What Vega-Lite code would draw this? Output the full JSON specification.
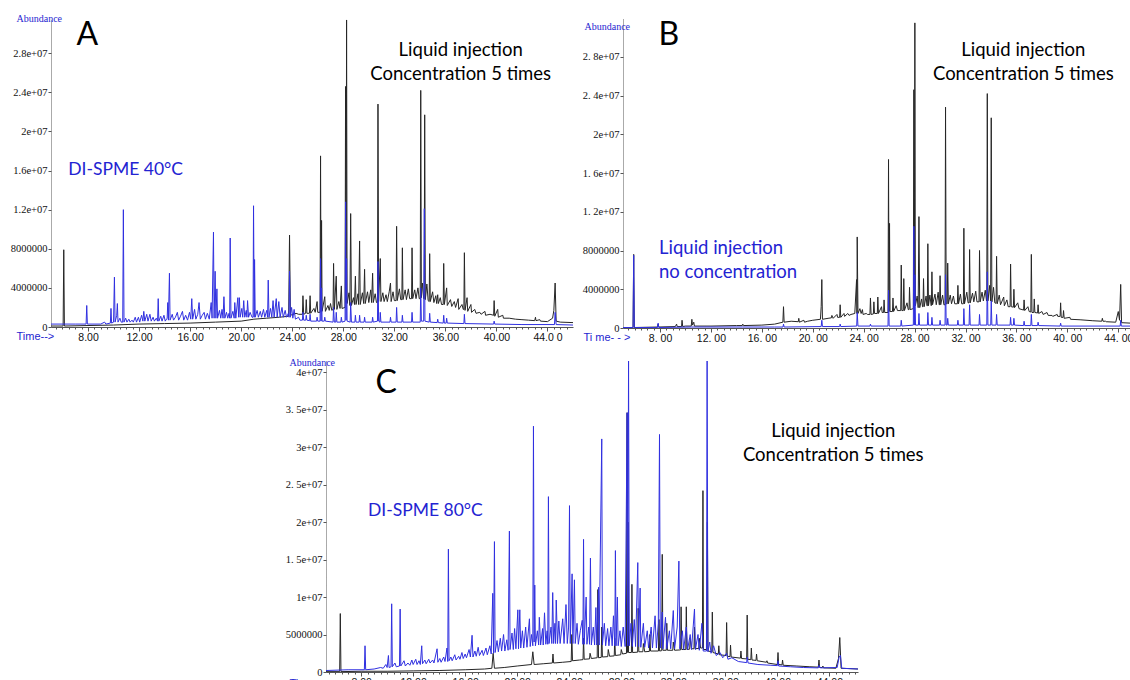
{
"$schema": "https://vega.github.io/schema/vega-lite/v6.json",
"background": "white",
"padding": {"left": 10, "top": 13, "right": 0, "bottom": 0},
"datasets": {
"Ak": [{"t":5.1,"y":0.1},{"t":6.05,"y":0.1},{"t":6.1,"y":7.9},{"t":6.15,"y":0.1},{"t":8,"y":0.15},{"t":10,"y":0.2},{"t":12,"y":0.3},{"t":14,"y":0.35},{"t":16,"y":0.4},{"t":18,"y":0.5},{"t":20,"y":0.6},{"t":21,"y":0.8},{"t":22,"y":0.9},{"t":23,"y":1.0},{"t":23.72,"y":1.1},{"t":23.79,"y":9.4},{"t":23.86,"y":1.2},{"t":24.3,"y":1.4},{"t":24.5,"y":1.3},{"t":24.8,"y":1.3},{"t":24.84,"y":3.2},{"t":24.9,"y":1.3},{"t":25.05,"y":1.4},{"t":25.1,"y":2.8},{"t":25.15,"y":1.4},{"t":25.35,"y":1.4},{"t":25.4,"y":3.2},{"t":25.45,"y":1.4},{"t":25.7,"y":1.9},{"t":25.8,"y":1.5},{"t":25.95,"y":2.6},{"t":26.0,"y":1.5},{"t":26.18,"y":1.5},{"t":26.22,"y":17.5},{"t":26.26,"y":1.6},{"t":26.3,"y":10.9},{"t":26.34,"y":1.6},{"t":26.55,"y":3.1},{"t":26.6,"y":1.6},{"t":26.8,"y":2.2},{"t":26.9,"y":1.7},{"t":27.0,"y":2.4},{"t":27.1,"y":1.7},{"t":27.2,"y":1.8},{"t":27.24,"y":6.5},{"t":27.3,"y":1.8},{"t":27.45,"y":5.2},{"t":27.5,"y":1.8},{"t":27.65,"y":2.6},{"t":27.75,"y":1.9},{"t":27.85,"y":4.2},{"t":27.9,"y":1.9},{"t":28.14,"y":2.0},{"t":28.18,"y":24.6},{"t":28.22,"y":2.5},{"t":28.26,"y":31.4},{"t":28.3,"y":2.4},{"t":28.45,"y":3.5},{"t":28.52,"y":2.2},{"t":28.58,"y":11.6},{"t":28.64,"y":2.2},{"t":28.8,"y":3.0},{"t":28.88,"y":2.3},{"t":28.95,"y":5.2},{"t":29.0,"y":2.3},{"t":29.15,"y":3.4},{"t":29.2,"y":2.3},{"t":29.28,"y":8.8},{"t":29.33,"y":2.3},{"t":29.5,"y":3.5},{"t":29.6,"y":2.4},{"t":29.67,"y":5.9},{"t":29.72,"y":2.4},{"t":29.9,"y":3.6},{"t":30.0,"y":2.5},{"t":30.15,"y":3.8},{"t":30.22,"y":2.5},{"t":30.3,"y":5.5},{"t":30.35,"y":2.5},{"t":30.5,"y":3.4},{"t":30.6,"y":2.5},{"t":30.68,"y":2.5},{"t":30.72,"y":22.8},{"t":30.77,"y":2.6},{"t":30.9,"y":7.0},{"t":30.95,"y":2.6},{"t":31.1,"y":3.5},{"t":31.2,"y":2.6},{"t":31.35,"y":3.3},{"t":31.45,"y":2.6},{"t":31.6,"y":3.6},{"t":31.7,"y":4.5},{"t":31.75,"y":2.6},{"t":31.9,"y":3.6},{"t":32.0,"y":2.7},{"t":32.14,"y":2.7},{"t":32.18,"y":10.3},{"t":32.23,"y":2.7},{"t":32.4,"y":3.9},{"t":32.5,"y":2.8},{"t":32.59,"y":2.8},{"t":32.63,"y":8.1},{"t":32.68,"y":2.8},{"t":32.85,"y":3.8},{"t":32.95,"y":2.8},{"t":33.1,"y":3.9},{"t":33.2,"y":2.9},{"t":33.35,"y":2.9},{"t":33.39,"y":8.1},{"t":33.44,"y":2.9},{"t":33.6,"y":3.8},{"t":33.7,"y":2.9},{"t":33.85,"y":4.0},{"t":33.95,"y":2.9},{"t":34.03,"y":2.9},{"t":34.07,"y":24.2},{"t":34.12,"y":3.0},{"t":34.2,"y":4.5},{"t":34.3,"y":2.9},{"t":34.34,"y":2.9},{"t":34.38,"y":21.7},{"t":34.43,"y":2.8},{"t":34.55,"y":4.4},{"t":34.65,"y":2.7},{"t":34.73,"y":2.6},{"t":34.77,"y":7.5},{"t":34.82,"y":2.6},{"t":35.0,"y":3.6},{"t":35.1,"y":2.5},{"t":35.25,"y":3.2},{"t":35.32,"y":2.4},{"t":35.4,"y":3.3},{"t":35.45,"y":2.4},{"t":35.6,"y":3.0},{"t":35.7,"y":2.3},{"t":35.83,"y":2.3},{"t":35.87,"y":6.5},{"t":35.92,"y":2.3},{"t":36.1,"y":4.0},{"t":36.15,"y":2.2},{"t":36.4,"y":2.8},{"t":36.5,"y":2.1},{"t":36.7,"y":2.6},{"t":36.8,"y":2.0},{"t":37.0,"y":2.9},{"t":37.05,"y":1.8},{"t":37.3,"y":2.3},{"t":37.4,"y":1.8},{"t":37.45,"y":1.8},{"t":37.49,"y":7.6},{"t":37.54,"y":1.7},{"t":37.7,"y":3.0},{"t":37.75,"y":1.6},{"t":38.0,"y":2.3},{"t":38.05,"y":1.5},{"t":38.3,"y":1.8},{"t":38.4,"y":1.4},{"t":38.7,"y":1.5},{"t":38.8,"y":1.3},{"t":39.1,"y":1.6},{"t":39.15,"y":1.2},{"t":39.5,"y":1.3},{"t":39.78,"y":1.2},{"t":39.82,"y":2.7},{"t":39.87,"y":1.1},{"t":40.1,"y":1.8},{"t":40.15,"y":1.0},{"t":40.5,"y":1.2},{"t":40.55,"y":0.9},{"t":41,"y":0.9},{"t":41.5,"y":0.8},{"t":42,"y":0.75},{"t":42.5,"y":0.7},{"t":43.0,"y":0.65},{"t":43.06,"y":1.0},{"t":43.1,"y":0.65},{"t":43.4,"y":0.75},{"t":43.45,"y":0.6},{"t":44.0,"y":0.55},{"t":44.4,"y":0.9},{"t":44.5,"y":1.7},{"t":44.6,"y":4.5},{"t":44.68,"y":0.6},{"t":45,"y":0.5},{"t":46,"y":0.45}],
"Ab": [{"t":5.1,"y":0.3},{"t":7,"y":0.3},{"t":7.85,"y":0.3},{"t":7.9,"y":2.2},{"t":7.95,"y":0.3},{"t":9.0,"y":0.3},{"t":9.3,"y":0.5},{"t":9.4,"y":0.3},{"t":9.75,"y":0.4},{"t":9.8,"y":1.9},{"t":9.85,"y":0.4},{"t":10.0,"y":0.5},{"t":10.07,"y":5.1},{"t":10.12,"y":0.5},{"t":10.25,"y":1.2},{"t":10.3,"y":2.4},{"t":10.35,"y":0.5},{"t":10.5,"y":0.9},{"t":10.6,"y":0.5},{"t":10.72,"y":0.5},{"t":10.77,"y":12.0},{"t":10.82,"y":0.5},{"t":10.95,"y":0.9},{"t":11.05,"y":0.5},{"t":11.2,"y":0.8},{"t":11.3,"y":0.5},{"t":11.45,"y":0.7},{"t":11.55,"y":0.5},{"t":11.7,"y":1.0},{"t":11.8,"y":0.5},{"t":11.95,"y":1.0},{"t":12.05,"y":0.5},{"t":12.2,"y":1.2},{"t":12.3,"y":0.6},{"t":12.37,"y":1.6},{"t":12.45,"y":0.6},{"t":12.6,"y":1.3},{"t":12.7,"y":0.6},{"t":12.85,"y":1.3},{"t":12.95,"y":0.6},{"t":13.1,"y":1.0},{"t":13.2,"y":0.6},{"t":13.35,"y":0.9},{"t":13.45,"y":0.6},{"t":13.5,"y":2.9},{"t":13.55,"y":0.6},{"t":13.7,"y":1.1},{"t":13.8,"y":0.6},{"t":13.95,"y":1.2},{"t":14.05,"y":0.6},{"t":14.2,"y":0.9},{"t":14.25,"y":2.5},{"t":14.3,"y":0.7},{"t":14.38,"y":5.5},{"t":14.43,"y":0.7},{"t":14.6,"y":1.3},{"t":14.7,"y":0.7},{"t":14.85,"y":1.0},{"t":15.0,"y":1.5},{"t":15.1,"y":0.7},{"t":15.25,"y":1.1},{"t":15.4,"y":1.6},{"t":15.5,"y":0.7},{"t":15.65,"y":1.2},{"t":15.8,"y":0.7},{"t":15.95,"y":1.5},{"t":16.05,"y":0.8},{"t":16.13,"y":2.9},{"t":16.2,"y":0.8},{"t":16.35,"y":1.8},{"t":16.45,"y":0.8},{"t":16.6,"y":1.3},{"t":16.7,"y":2.5},{"t":16.8,"y":0.8},{"t":16.95,"y":1.2},{"t":17.1,"y":1.5},{"t":17.2,"y":0.8},{"t":17.35,"y":1.4},{"t":17.5,"y":0.8},{"t":17.65,"y":2.5},{"t":17.72,"y":0.9},{"t":17.83,"y":9.7},{"t":17.88,"y":0.9},{"t":17.96,"y":5.7},{"t":18.02,"y":0.9},{"t":18.1,"y":3.9},{"t":18.15,"y":0.9},{"t":18.3,"y":1.7},{"t":18.4,"y":0.9},{"t":18.5,"y":1.8},{"t":18.58,"y":0.9},{"t":18.65,"y":3.1},{"t":18.72,"y":0.9},{"t":18.85,"y":1.5},{"t":18.95,"y":0.9},{"t":19.05,"y":1.4},{"t":19.1,"y":0.9},{"t":19.14,"y":9.1},{"t":19.2,"y":0.9},{"t":19.35,"y":1.6},{"t":19.45,"y":0.9},{"t":19.5,"y":2.5},{"t":19.58,"y":0.9},{"t":19.74,"y":3.0},{"t":19.8,"y":1.0},{"t":19.86,"y":3.0},{"t":19.92,"y":1.0},{"t":20.05,"y":1.9},{"t":20.12,"y":1.0},{"t":20.2,"y":2.7},{"t":20.28,"y":1.0},{"t":20.4,"y":1.7},{"t":20.45,"y":1.0},{"t":20.5,"y":2.7},{"t":20.58,"y":1.0},{"t":20.7,"y":1.5},{"t":20.85,"y":1.0},{"t":20.93,"y":1.0},{"t":20.97,"y":12.4},{"t":21.02,"y":1.0},{"t":21.05,"y":6.9},{"t":21.1,"y":1.0},{"t":21.25,"y":1.7},{"t":21.35,"y":1.0},{"t":21.5,"y":1.6},{"t":21.6,"y":1.0},{"t":21.75,"y":1.8},{"t":21.85,"y":1.0},{"t":22.0,"y":1.7},{"t":22.07,"y":1.0},{"t":22.12,"y":4.8},{"t":22.18,"y":1.0},{"t":22.3,"y":1.9},{"t":22.4,"y":1.0},{"t":22.5,"y":2.7},{"t":22.58,"y":1.0},{"t":22.75,"y":2.9},{"t":22.82,"y":1.0},{"t":22.95,"y":2.6},{"t":23.05,"y":1.0},{"t":23.2,"y":2.0},{"t":23.3,"y":1.0},{"t":23.45,"y":1.7},{"t":23.55,"y":1.0},{"t":23.7,"y":1.4},{"t":23.75,"y":1.0},{"t":23.79,"y":5.7},{"t":23.85,"y":1.0},{"t":23.95,"y":2.0},{"t":24.05,"y":0.9},{"t":24.15,"y":1.8},{"t":24.25,"y":0.8},{"t":24.5,"y":1.0},{"t":24.6,"y":0.7},{"t":24.8,"y":0.7},{"t":24.84,"y":1.5},{"t":24.9,"y":0.7},{"t":25.06,"y":0.7},{"t":25.1,"y":1.2},{"t":25.15,"y":0.7},{"t":25.36,"y":0.65},{"t":25.4,"y":1.3},{"t":25.45,"y":0.6},{"t":25.91,"y":0.6},{"t":25.95,"y":1.0},{"t":26.0,"y":0.6},{"t":26.18,"y":0.6},{"t":26.22,"y":7.0},{"t":26.26,"y":0.6},{"t":26.3,"y":4.0},{"t":26.34,"y":0.6},{"t":26.51,"y":0.6},{"t":26.55,"y":1.0},{"t":26.6,"y":0.6},{"t":27.2,"y":0.5},{"t":27.24,"y":2.0},{"t":27.3,"y":0.5},{"t":27.41,"y":0.5},{"t":27.45,"y":1.5},{"t":27.5,"y":0.5},{"t":27.81,"y":0.5},{"t":27.85,"y":1.0},{"t":27.9,"y":0.5},{"t":28.14,"y":0.6},{"t":28.18,"y":12.8},{"t":28.22,"y":0.7},{"t":28.26,"y":7.0},{"t":28.3,"y":0.6},{"t":28.54,"y":0.5},{"t":28.58,"y":2.5},{"t":28.64,"y":0.5},{"t":28.91,"y":0.5},{"t":28.95,"y":1.2},{"t":29.0,"y":0.5},{"t":29.24,"y":0.5},{"t":29.28,"y":1.2},{"t":29.33,"y":0.5},{"t":29.63,"y":0.5},{"t":29.67,"y":1.0},{"t":29.72,"y":0.5},{"t":30.26,"y":0.5},{"t":30.3,"y":1.0},{"t":30.35,"y":0.5},{"t":30.68,"y":0.6},{"t":30.72,"y":6.7},{"t":30.77,"y":0.6},{"t":30.86,"y":0.5},{"t":30.9,"y":1.5},{"t":30.95,"y":0.5},{"t":31.66,"y":0.5},{"t":31.7,"y":1.0},{"t":31.75,"y":0.5},{"t":32.14,"y":0.5},{"t":32.18,"y":2.0},{"t":32.23,"y":0.5},{"t":32.59,"y":0.5},{"t":32.63,"y":1.2},{"t":32.68,"y":0.5},{"t":33.35,"y":0.5},{"t":33.39,"y":1.5},{"t":33.44,"y":0.5},{"t":34.03,"y":0.5},{"t":34.07,"y":4.0},{"t":34.12,"y":0.6},{"t":34.3,"y":0.6},{"t":34.35,"y":12.1},{"t":34.4,"y":0.6},{"t":34.73,"y":0.5},{"t":34.77,"y":1.4},{"t":34.82,"y":0.5},{"t":35.36,"y":0.45},{"t":35.4,"y":0.8},{"t":35.45,"y":0.45},{"t":35.83,"y":0.4},{"t":35.87,"y":1.2},{"t":35.92,"y":0.4},{"t":36.06,"y":0.4},{"t":36.1,"y":0.9},{"t":36.15,"y":0.4},{"t":37.45,"y":0.35},{"t":37.49,"y":1.3},{"t":37.54,"y":0.35},{"t":39.78,"y":0.3},{"t":39.82,"y":0.6},{"t":39.87,"y":0.3},{"t":42,"y":0.25},{"t":44.55,"y":0.25},{"t":44.6,"y":1.5},{"t":44.68,"y":0.25},{"t":46,"y":0.2}],
"Bk": [{"t":5.09,"y":0.05},{"t":5.88,"y":0.05},{"t":5.93,"y":7.6},{"t":5.98,"y":0.05},{"t":7.8,"y":0.1},{"t":7.85,"y":0.4},{"t":7.9,"y":0.1},{"t":9.2,"y":0.15},{"t":9.3,"y":0.4},{"t":9.35,"y":0.15},{"t":9.69,"y":0.15},{"t":9.73,"y":0.8},{"t":9.78,"y":0.15},{"t":10.0,"y":0.2},{"t":10.45,"y":0.2},{"t":10.5,"y":0.9},{"t":10.55,"y":0.3},{"t":10.65,"y":0.6},{"t":10.7,"y":0.2},{"t":12,"y":0.2},{"t":14,"y":0.25},{"t":14.46,"y":0.25},{"t":14.5,"y":0.4},{"t":14.55,"y":0.25},{"t":16,"y":0.3},{"t":17,"y":0.4},{"t":17.65,"y":0.6},{"t":17.7,"y":2.2},{"t":17.75,"y":0.6},{"t":18.3,"y":0.7},{"t":18.86,"y":0.65},{"t":18.9,"y":1.0},{"t":18.95,"y":0.6},{"t":19.3,"y":0.8},{"t":19.35,"y":0.6},{"t":19.6,"y":0.7},{"t":20.0,"y":0.8},{"t":20.6,"y":0.9},{"t":20.66,"y":2.2},{"t":20.71,"y":5.0},{"t":20.76,"y":0.9},{"t":21.2,"y":1.0},{"t":21.46,"y":1.05},{"t":21.5,"y":1.3},{"t":21.6,"y":1.0},{"t":21.9,"y":1.4},{"t":21.95,"y":1.1},{"t":22.11,"y":1.1},{"t":22.15,"y":2.4},{"t":22.2,"y":1.1},{"t":22.45,"y":1.5},{"t":22.5,"y":1.2},{"t":22.75,"y":1.5},{"t":22.85,"y":1.3},{"t":23.0,"y":1.4},{"t":23.3,"y":1.5},{"t":23.44,"y":5.0},{"t":23.47,"y":1.5},{"t":23.49,"y":9.4},{"t":23.55,"y":1.5},{"t":23.7,"y":2.0},{"t":23.8,"y":1.5},{"t":23.9,"y":1.9},{"t":23.95,"y":1.4},{"t":24.2,"y":1.5},{"t":24.3,"y":1.4},{"t":24.49,"y":1.4},{"t":24.53,"y":3.1},{"t":24.58,"y":1.4},{"t":24.76,"y":1.45},{"t":24.8,"y":2.7},{"t":24.85,"y":1.5},{"t":25.07,"y":1.5},{"t":25.11,"y":3.2},{"t":25.16,"y":1.5},{"t":25.4,"y":2.2},{"t":25.45,"y":1.6},{"t":25.56,"y":1.6},{"t":25.6,"y":2.9},{"t":25.65,"y":1.6},{"t":25.91,"y":1.6},{"t":25.95,"y":17.4},{"t":25.99,"y":1.7},{"t":26.03,"y":10.8},{"t":26.07,"y":1.7},{"t":26.26,"y":1.7},{"t":26.3,"y":3.1},{"t":26.35,"y":1.7},{"t":26.55,"y":2.3},{"t":26.65,"y":1.8},{"t":26.91,"y":1.8},{"t":26.95,"y":6.5},{"t":27.0,"y":1.8},{"t":27.11,"y":1.8},{"t":27.15,"y":5.1},{"t":27.2,"y":1.8},{"t":27.4,"y":2.6},{"t":27.5,"y":1.9},{"t":27.56,"y":1.9},{"t":27.6,"y":4.2},{"t":27.65,"y":1.9},{"t":27.9,"y":2.0},{"t":27.94,"y":24.6},{"t":27.98,"y":2.3},{"t":28.02,"y":31.5},{"t":28.06,"y":2.3},{"t":28.2,"y":3.3},{"t":28.28,"y":2.1},{"t":28.34,"y":11.5},{"t":28.4,"y":2.1},{"t":28.55,"y":3.0},{"t":28.62,"y":2.2},{"t":28.66,"y":2.2},{"t":28.7,"y":5.1},{"t":28.75,"y":2.2},{"t":28.9,"y":3.3},{"t":28.97,"y":2.3},{"t":29.0,"y":2.3},{"t":29.04,"y":8.7},{"t":29.09,"y":2.3},{"t":29.2,"y":3.4},{"t":29.3,"y":2.3},{"t":29.32,"y":2.35},{"t":29.36,"y":5.8},{"t":29.41,"y":2.4},{"t":29.6,"y":3.5},{"t":29.7,"y":2.4},{"t":29.85,"y":3.7},{"t":29.93,"y":2.4},{"t":29.96,"y":2.4},{"t":30.0,"y":5.4},{"t":30.05,"y":2.4},{"t":30.2,"y":3.4},{"t":30.3,"y":2.4},{"t":30.39,"y":2.4},{"t":30.43,"y":22.8},{"t":30.48,"y":2.5},{"t":30.56,"y":2.5},{"t":30.6,"y":6.7},{"t":30.65,"y":2.5},{"t":30.8,"y":3.4},{"t":30.9,"y":2.5},{"t":31.05,"y":3.3},{"t":31.15,"y":2.5},{"t":31.36,"y":2.5},{"t":31.4,"y":4.4},{"t":31.45,"y":2.5},{"t":31.6,"y":3.5},{"t":31.7,"y":2.5},{"t":31.83,"y":2.5},{"t":31.87,"y":10.3},{"t":31.92,"y":2.5},{"t":32.1,"y":3.7},{"t":32.2,"y":2.6},{"t":32.28,"y":2.6},{"t":32.32,"y":8.1},{"t":32.37,"y":2.6},{"t":32.55,"y":3.6},{"t":32.65,"y":2.7},{"t":32.8,"y":3.8},{"t":32.9,"y":2.7},{"t":33.06,"y":2.7},{"t":33.1,"y":8.0},{"t":33.15,"y":2.7},{"t":33.3,"y":3.7},{"t":33.4,"y":2.8},{"t":33.55,"y":3.9},{"t":33.65,"y":2.8},{"t":33.67,"y":2.8},{"t":33.71,"y":24.2},{"t":33.76,"y":2.8},{"t":33.9,"y":4.4},{"t":33.97,"y":2.8},{"t":34.02,"y":21.7},{"t":34.07,"y":2.7},{"t":34.2,"y":4.2},{"t":34.3,"y":2.6},{"t":34.4,"y":2.55},{"t":34.44,"y":7.4},{"t":34.49,"y":2.5},{"t":34.65,"y":3.4},{"t":34.75,"y":2.4},{"t":35.0,"y":3.2},{"t":35.05,"y":2.3},{"t":35.25,"y":2.9},{"t":35.35,"y":2.2},{"t":35.5,"y":2.2},{"t":35.54,"y":6.6},{"t":35.59,"y":2.2},{"t":35.76,"y":2.15},{"t":35.8,"y":4.0},{"t":35.85,"y":2.1},{"t":36.1,"y":2.6},{"t":36.2,"y":2.0},{"t":36.56,"y":1.85},{"t":36.6,"y":2.9},{"t":36.65,"y":1.8},{"t":36.9,"y":2.2},{"t":37.0,"y":1.7},{"t":37.13,"y":1.65},{"t":37.17,"y":7.6},{"t":37.22,"y":1.6},{"t":37.36,"y":1.6},{"t":37.4,"y":3.0},{"t":37.45,"y":1.6},{"t":37.66,"y":1.55},{"t":37.7,"y":2.4},{"t":37.75,"y":1.5},{"t":38.0,"y":1.7},{"t":38.1,"y":1.4},{"t":38.4,"y":1.6},{"t":38.5,"y":1.3},{"t":38.8,"y":1.3},{"t":38.85,"y":1.2},{"t":39.2,"y":1.4},{"t":39.25,"y":1.2},{"t":39.43,"y":1.2},{"t":39.47,"y":2.6},{"t":39.52,"y":1.1},{"t":39.66,"y":1.1},{"t":39.7,"y":1.8},{"t":39.75,"y":1.0},{"t":40.2,"y":1.1},{"t":40.25,"y":0.9},{"t":41,"y":0.85},{"t":42,"y":0.75},{"t":42.7,"y":0.7},{"t":42.75,"y":1.0},{"t":42.8,"y":0.7},{"t":43.0,"y":0.7},{"t":43.05,"y":0.65},{"t":43.8,"y":0.6},{"t":44.0,"y":1.7},{"t":44.1,"y":0.8},{"t":44.19,"y":4.5},{"t":44.26,"y":0.55},{"t":45,"y":0.5}],
"Bb": [{"t":5.09,"y":0.05},{"t":5.88,"y":0.05},{"t":5.93,"y":7.5},{"t":5.98,"y":0.05},{"t":7.8,"y":0.05},{"t":7.85,"y":0.5},{"t":7.9,"y":0.05},{"t":10.5,"y":0.1},{"t":14.5,"y":0.1},{"t":17,"y":0.1},{"t":17.66,"y":0.1},{"t":17.7,"y":0.4},{"t":17.75,"y":0.1},{"t":20.66,"y":0.15},{"t":20.71,"y":0.8},{"t":20.76,"y":0.15},{"t":22.11,"y":0.15},{"t":22.15,"y":0.4},{"t":22.2,"y":0.15},{"t":23.45,"y":0.2},{"t":23.49,"y":1.6},{"t":23.55,"y":0.2},{"t":24.49,"y":0.2},{"t":24.53,"y":0.4},{"t":24.58,"y":0.2},{"t":25.91,"y":0.2},{"t":25.95,"y":3.9},{"t":26.0,"y":0.2},{"t":26.91,"y":0.2},{"t":26.95,"y":0.8},{"t":27.0,"y":0.2},{"t":27.9,"y":0.3},{"t":27.94,"y":10.5},{"t":27.98,"y":0.3},{"t":28.02,"y":5.5},{"t":28.07,"y":0.3},{"t":28.3,"y":0.3},{"t":28.34,"y":1.5},{"t":28.39,"y":0.3},{"t":29.0,"y":0.3},{"t":29.04,"y":1.6},{"t":29.09,"y":0.3},{"t":29.32,"y":0.3},{"t":29.36,"y":1.1},{"t":29.41,"y":0.3},{"t":29.96,"y":0.3},{"t":30.0,"y":0.8},{"t":30.05,"y":0.3},{"t":30.39,"y":0.3},{"t":30.43,"y":5.5},{"t":30.48,"y":0.3},{"t":30.56,"y":0.3},{"t":30.6,"y":1.0},{"t":30.65,"y":0.3},{"t":31.36,"y":0.3},{"t":31.4,"y":0.8},{"t":31.45,"y":0.3},{"t":31.83,"y":0.3},{"t":31.87,"y":2.0},{"t":31.92,"y":0.3},{"t":32.28,"y":0.3},{"t":32.32,"y":2.4},{"t":32.37,"y":0.3},{"t":33.06,"y":0.3},{"t":33.1,"y":1.4},{"t":33.15,"y":0.3},{"t":33.67,"y":0.3},{"t":33.71,"y":5.8},{"t":33.76,"y":0.3},{"t":33.98,"y":0.3},{"t":34.02,"y":2.8},{"t":34.07,"y":0.3},{"t":34.4,"y":0.3},{"t":34.44,"y":1.4},{"t":34.49,"y":0.3},{"t":35.5,"y":0.3},{"t":35.54,"y":1.1},{"t":35.59,"y":0.3},{"t":35.76,"y":0.3},{"t":35.8,"y":1.0},{"t":35.85,"y":0.3},{"t":36.56,"y":0.25},{"t":36.6,"y":0.7},{"t":36.65,"y":0.25},{"t":37.13,"y":0.25},{"t":37.17,"y":1.4},{"t":37.22,"y":0.25},{"t":37.66,"y":0.25},{"t":37.7,"y":0.6},{"t":37.75,"y":0.25},{"t":39.43,"y":0.2},{"t":39.47,"y":0.5},{"t":39.52,"y":0.2},{"t":44.15,"y":0.2},{"t":44.19,"y":0.8},{"t":44.24,"y":0.2},{"t":45,"y":0.2}],
"Ck": [{"t":5.3,"y":0.05},{"t":6.35,"y":0.05},{"t":6.4,"y":7.8},{"t":6.45,"y":0.05},{"t":8,"y":0.1},{"t":10,"y":0.1},{"t":12,"y":0.15},{"t":14,"y":0.2},{"t":16,"y":0.3},{"t":17.5,"y":0.4},{"t":18.05,"y":0.5},{"t":18.15,"y":2.5},{"t":18.25,"y":0.5},{"t":19,"y":0.6},{"t":20,"y":0.8},{"t":21.1,"y":1.0},{"t":21.2,"y":2.7},{"t":21.3,"y":1.0},{"t":22,"y":1.1},{"t":22.7,"y":1.2},{"t":22.75,"y":2.4},{"t":22.8,"y":1.2},{"t":23.5,"y":1.3},{"t":24.15,"y":1.4},{"t":24.2,"y":5.0},{"t":24.25,"y":1.5},{"t":24.8,"y":1.6},{"t":25.06,"y":1.65},{"t":25.1,"y":4.5},{"t":25.15,"y":1.7},{"t":25.56,"y":1.75},{"t":25.6,"y":2.5},{"t":25.7,"y":1.8},{"t":26.15,"y":1.9},{"t":26.2,"y":11.0},{"t":26.25,"y":1.9},{"t":26.46,"y":1.95},{"t":26.5,"y":6.0},{"t":26.55,"y":2.0},{"t":26.96,"y":2.05},{"t":27.0,"y":3.0},{"t":27.1,"y":2.1},{"t":27.46,"y":2.15},{"t":27.5,"y":4.5},{"t":27.55,"y":2.2},{"t":27.96,"y":2.3},{"t":28.0,"y":3.0},{"t":28.1,"y":2.4},{"t":28.4,"y":2.5},{"t":28.45,"y":34.6},{"t":28.49,"y":2.6},{"t":28.52,"y":20.0},{"t":28.56,"y":2.6},{"t":28.78,"y":2.6},{"t":28.82,"y":11.7},{"t":28.87,"y":2.6},{"t":29.26,"y":2.65},{"t":29.3,"y":8.5},{"t":29.35,"y":2.7},{"t":29.66,"y":2.7},{"t":29.7,"y":3.8},{"t":29.8,"y":2.7},{"t":30.16,"y":2.75},{"t":30.2,"y":5.0},{"t":30.25,"y":2.8},{"t":30.86,"y":2.8},{"t":30.9,"y":7.0},{"t":30.95,"y":2.8},{"t":31.11,"y":2.85},{"t":31.15,"y":15.7},{"t":31.2,"y":2.9},{"t":31.46,"y":2.9},{"t":31.5,"y":6.5},{"t":31.55,"y":2.9},{"t":31.96,"y":2.9},{"t":32.0,"y":4.0},{"t":32.1,"y":2.9},{"t":32.56,"y":2.95},{"t":32.6,"y":8.7},{"t":32.65,"y":3.0},{"t":32.96,"y":3.0},{"t":33.0,"y":8.7},{"t":33.05,"y":3.0},{"t":33.26,"y":3.05},{"t":33.3,"y":4.5},{"t":33.4,"y":3.1},{"t":33.59,"y":3.1},{"t":33.63,"y":6.0},{"t":33.68,"y":3.1},{"t":33.96,"y":3.15},{"t":34.0,"y":4.5},{"t":34.1,"y":3.2},{"t":34.24,"y":3.2},{"t":34.28,"y":24.2},{"t":34.32,"y":3.0},{"t":34.58,"y":3.0},{"t":34.62,"y":20.0},{"t":34.67,"y":2.8},{"t":34.96,"y":2.7},{"t":35.0,"y":8.0},{"t":35.05,"y":2.6},{"t":35.46,"y":2.4},{"t":35.5,"y":3.5},{"t":35.55,"y":2.3},{"t":36.06,"y":2.2},{"t":36.1,"y":6.6},{"t":36.15,"y":2.1},{"t":36.36,"y":2.05},{"t":36.4,"y":3.6},{"t":36.45,"y":2.0},{"t":37.16,"y":1.85},{"t":37.2,"y":2.8},{"t":37.25,"y":1.8},{"t":37.64,"y":1.75},{"t":37.68,"y":7.6},{"t":37.73,"y":1.7},{"t":37.96,"y":1.65},{"t":38.0,"y":3.2},{"t":38.05,"y":1.6},{"t":38.36,"y":1.55},{"t":38.4,"y":2.4},{"t":38.45,"y":1.5},{"t":39.16,"y":1.3},{"t":39.2,"y":1.5},{"t":39.25,"y":1.2},{"t":40.0,"y":1.0},{"t":40.05,"y":2.6},{"t":40.1,"y":1.0},{"t":40.36,"y":0.95},{"t":40.4,"y":1.6},{"t":40.45,"y":0.9},{"t":41.5,"y":0.8},{"t":42.5,"y":0.7},{"t":43.15,"y":0.65},{"t":43.2,"y":1.6},{"t":43.25,"y":0.6},{"t":43.46,"y":0.6},{"t":43.5,"y":0.8},{"t":43.55,"y":0.55},{"t":44.5,"y":0.5},{"t":44.7,"y":1.8},{"t":44.8,"y":4.6},{"t":44.9,"y":0.5},{"t":46.2,"y":0.4}],
"Cb": [{"t":5.3,"y":0.2},{"t":7,"y":0.3},{"t":8.25,"y":0.3},{"t":8.3,"y":3.5},{"t":8.35,"y":0.3},{"t":9,"y":0.4},{"t":9.5,"y":0.6},{"t":9.7,"y":0.5},{"t":9.9,"y":1.0},{"t":10.0,"y":0.6},{"t":10.1,"y":2.2},{"t":10.15,"y":0.6},{"t":10.3,"y":0.7},{"t":10.35,"y":9.1},{"t":10.4,"y":0.7},{"t":10.6,"y":1.2},{"t":10.7,"y":0.7},{"t":10.95,"y":0.8},{"t":11.0,"y":8.4},{"t":11.05,"y":0.8},{"t":11.3,"y":1.5},{"t":11.4,"y":0.8},{"t":11.6,"y":1.2},{"t":11.75,"y":0.9},{"t":11.9,"y":1.6},{"t":12.0,"y":1.0},{"t":12.2,"y":1.7},{"t":12.3,"y":1.0},{"t":12.45,"y":1.5},{"t":12.55,"y":1.0},{"t":12.66,"y":3.5},{"t":12.72,"y":1.1},{"t":12.9,"y":1.6},{"t":13.0,"y":1.1},{"t":13.2,"y":1.7},{"t":13.3,"y":1.2},{"t":13.5,"y":1.6},{"t":13.6,"y":1.2},{"t":13.84,"y":3.1},{"t":13.9,"y":1.3},{"t":14.05,"y":1.8},{"t":14.15,"y":1.3},{"t":14.35,"y":2.0},{"t":14.45,"y":1.4},{"t":14.6,"y":3.2},{"t":14.66,"y":1.4},{"t":14.71,"y":16.4},{"t":14.76,"y":1.5},{"t":14.9,"y":2.0},{"t":15.0,"y":1.5},{"t":15.2,"y":2.3},{"t":15.3,"y":1.6},{"t":15.5,"y":2.1},{"t":15.6,"y":1.7},{"t":15.75,"y":2.6},{"t":15.85,"y":1.8},{"t":16.0,"y":2.4},{"t":16.1,"y":1.9},{"t":16.3,"y":3.0},{"t":16.4,"y":2.0},{"t":16.53,"y":4.9},{"t":16.6,"y":2.0},{"t":16.75,"y":2.8},{"t":16.85,"y":2.1},{"t":17.0,"y":3.3},{"t":17.1,"y":2.2},{"t":17.3,"y":2.9},{"t":17.4,"y":2.2},{"t":17.6,"y":3.2},{"t":17.7,"y":2.3},{"t":17.9,"y":3.5},{"t":18.0,"y":2.4},{"t":18.12,"y":10.5},{"t":18.18,"y":2.5},{"t":18.25,"y":17.4},{"t":18.3,"y":2.6},{"t":18.45,"y":4.2},{"t":18.55,"y":2.7},{"t":18.7,"y":4.5},{"t":18.8,"y":2.8},{"t":18.95,"y":5.0},{"t":19.05,"y":2.8},{"t":19.2,"y":4.3},{"t":19.3,"y":2.9},{"t":19.4,"y":18.8},{"t":19.45,"y":3.0},{"t":19.6,"y":5.2},{"t":19.7,"y":3.0},{"t":19.8,"y":5.8},{"t":19.9,"y":3.1},{"t":20.05,"y":8.3},{"t":20.1,"y":3.1},{"t":20.2,"y":8.3},{"t":20.27,"y":3.2},{"t":20.4,"y":5.5},{"t":20.5,"y":3.2},{"t":20.65,"y":6.0},{"t":20.75,"y":3.3},{"t":20.94,"y":7.1},{"t":21.0,"y":3.4},{"t":21.1,"y":5.0},{"t":21.2,"y":3.5},{"t":21.25,"y":32.8},{"t":21.3,"y":4.0},{"t":21.35,"y":11.6},{"t":21.4,"y":3.5},{"t":21.55,"y":5.5},{"t":21.65,"y":3.6},{"t":21.7,"y":7.3},{"t":21.8,"y":3.6},{"t":21.95,"y":5.8},{"t":22.0,"y":3.6},{"t":22.1,"y":7.9},{"t":22.2,"y":3.7},{"t":22.3,"y":5.5},{"t":22.35,"y":3.7},{"t":22.4,"y":23.4},{"t":22.45,"y":3.8},{"t":22.6,"y":6.0},{"t":22.66,"y":3.8},{"t":22.73,"y":10.6},{"t":22.8,"y":3.8},{"t":22.9,"y":6.5},{"t":22.95,"y":3.8},{"t":23.0,"y":9.6},{"t":23.1,"y":3.8},{"t":23.2,"y":6.8},{"t":23.3,"y":3.8},{"t":23.5,"y":7.1},{"t":23.6,"y":3.8},{"t":23.75,"y":9.0},{"t":23.85,"y":3.8},{"t":23.95,"y":6.0},{"t":24.02,"y":22.2},{"t":24.08,"y":3.8},{"t":24.22,"y":13.1},{"t":24.28,"y":3.8},{"t":24.4,"y":12.3},{"t":24.46,"y":3.8},{"t":24.6,"y":6.5},{"t":24.7,"y":3.7},{"t":24.85,"y":5.5},{"t":25.0,"y":6.9},{"t":25.05,"y":3.7},{"t":25.1,"y":17.7},{"t":25.15,"y":3.7},{"t":25.3,"y":10.0},{"t":25.36,"y":3.7},{"t":25.5,"y":6.0},{"t":25.56,"y":3.7},{"t":25.63,"y":15.2},{"t":25.7,"y":3.6},{"t":25.85,"y":6.0},{"t":25.95,"y":3.6},{"t":26.05,"y":8.6},{"t":26.12,"y":3.6},{"t":26.25,"y":11.3},{"t":26.3,"y":3.6},{"t":26.5,"y":31.1},{"t":26.55,"y":3.6},{"t":26.7,"y":6.5},{"t":26.8,"y":3.5},{"t":26.95,"y":5.8},{"t":27.05,"y":3.5},{"t":27.2,"y":6.0},{"t":27.3,"y":3.5},{"t":27.4,"y":7.5},{"t":27.5,"y":3.5},{"t":27.55,"y":16.2},{"t":27.6,"y":3.5},{"t":27.7,"y":10.0},{"t":27.76,"y":3.5},{"t":27.9,"y":5.5},{"t":28.0,"y":3.4},{"t":28.15,"y":6.0},{"t":28.3,"y":3.4},{"t":28.45,"y":34.6},{"t":28.5,"y":3.5},{"t":28.56,"y":41.5},{"t":28.62,"y":3.5},{"t":28.75,"y":6.5},{"t":28.85,"y":3.4},{"t":29.0,"y":7.0},{"t":29.1,"y":3.4},{"t":29.27,"y":14.6},{"t":29.33,"y":3.4},{"t":29.45,"y":11.2},{"t":29.5,"y":3.3},{"t":29.7,"y":6.5},{"t":29.8,"y":3.3},{"t":30.0,"y":5.5},{"t":30.1,"y":3.2},{"t":30.3,"y":6.0},{"t":30.4,"y":3.2},{"t":30.6,"y":7.5},{"t":30.7,"y":3.2},{"t":30.85,"y":6.5},{"t":30.94,"y":31.7},{"t":31.0,"y":3.2},{"t":31.15,"y":8.0},{"t":31.2,"y":3.1},{"t":31.4,"y":7.3},{"t":31.5,"y":3.1},{"t":31.7,"y":5.5},{"t":31.8,"y":3.1},{"t":32.0,"y":8.2},{"t":32.1,"y":3.1},{"t":32.3,"y":6.0},{"t":32.43,"y":14.8},{"t":32.5,"y":3.1},{"t":32.7,"y":5.5},{"t":32.8,"y":3.0},{"t":33.0,"y":6.0},{"t":33.1,"y":3.0},{"t":33.3,"y":5.0},{"t":33.4,"y":3.0},{"t":33.63,"y":8.4},{"t":33.7,"y":3.0},{"t":33.9,"y":5.0},{"t":34.0,"y":2.9},{"t":34.2,"y":6.5},{"t":34.3,"y":2.8},{"t":34.55,"y":2.8},{"t":34.6,"y":41.5},{"t":34.66,"y":2.7},{"t":34.8,"y":4.0},{"t":34.9,"y":2.5},{"t":35.1,"y":3.5},{"t":35.3,"y":2.2},{"t":35.6,"y":2.6},{"t":35.8,"y":1.9},{"t":36.1,"y":2.5},{"t":36.2,"y":1.7},{"t":36.5,"y":1.9},{"t":37.0,"y":1.4},{"t":37.64,"y":1.25},{"t":37.68,"y":2.0},{"t":37.75,"y":1.2},{"t":38.5,"y":1.0},{"t":39.5,"y":0.9},{"t":40.0,"y":0.85},{"t":40.05,"y":1.5},{"t":40.1,"y":0.8},{"t":41,"y":0.7},{"t":42,"y":0.6},{"t":43.15,"y":0.55},{"t":43.2,"y":0.9},{"t":43.3,"y":0.55},{"t":44.6,"y":0.6},{"t":44.75,"y":2.0},{"t":44.85,"y":2.2},{"t":44.95,"y":0.5},{"t":46.2,"y":0.4}]
},
"vconcat": [
{
"hconcat": [
{
"width": 522, "height": 308,
"resolve": {"axis": {"x": "independent", "y": "independent"}},
"layer": [
{"data": {"name": "Ak"}, "mark": {"type": "line", "color": "#262626", "strokeWidth": 1, "clip": true},
 "encoding": {
  "x": {"field": "t", "type": "quantitative", "scale": {"domain": [5.1, 46.0], "nice": false, "zero": false},
   "axis": {"orient": "bottom", "values": [8,12,16,20,24,28,32,36,40,44], "labelExpr": "datum.value == 44 ? '44.0 0' : format(datum.value, '.2f')", "tickSize": 4, "labelPadding": 1, "labelFontSize": 10.5, "title": "Time-->", "titleX": -35, "titleY": 9, "titleAlign": "left", "titleBaseline": "middle", "titleColor": "#2525d0", "titleFontSize": 11, "titleFontWeight": "normal", "titleFont": "Liberation Sans"}},
  "y": {"field": "y", "type": "quantitative", "scale": {"domain": [0, 31.5], "nice": false},
   "axis": {"values": [0,4,8,12,16,20,24,28], "labelExpr": "datum.value == 0 ? '0' : datum.value < 10 ? format(datum.value * 1000000, 'd') : (datum.value / 10) + 'e+07'", "tickSize": 3, "labelPadding": 1, "labelFont": "Liberation Sans Narrow", "labelFontSize": 10.5, "title": "Abundance", "titleAngle": 0, "titleX": -35, "titleY": -1, "titleAlign": "left", "titleBaseline": "middle", "titleColor": "#2525d0", "titleFontSize": 10, "titleFont": "Liberation Sans Narrow", "titleFontWeight": "normal", "domainDash": [1, 1]}}
 }},
{"data": {"name": "Ab"}, "mark": {"type": "line", "color": "#3030e0", "strokeWidth": 1, "clip": true},
 "encoding": {
  "x": {"field": "t", "type": "quantitative", "axis": {"orient": "bottom", "values": [5.5,6,6.5,7,7.5,8,8.5,9,9.5,10,10.5,11,11.5,12,12.5,13,13.5,14,14.5,15,15.5,16,16.5,17,17.5,18,18.5,19,19.5,20,20.5,21,21.5,22,22.5,23,23.5,24,24.5,25,25.5,26,26.5,27,27.5,28,28.5,29,29.5,30,30.5,31,31.5,32,32.5,33,33.5,34,34.5,35,35.5,36,36.5,37,37.5,38,38.5,39,39.5,40,40.5,41,41.5,42,42.5,43,43.5,44,44.5,45,45.5], "labels": false, "tickSize": 2, "domain": false, "title": null}},
  "y": {"field": "y", "type": "quantitative", "axis": null}
 }},
{"data": {"values": [{}]}, "mark": {"type": "text", "text": "A", "font": "Lato", "fontSize": 32, "align": "center", "baseline": "alphabetic", "color": "#000000"},
 "encoding": {"x": {"datum": 7.95, "type": "quantitative", "axis": null}, "y": {"datum": 28.84, "type": "quantitative", "axis": null}}},
{"data": {"values": [{}]}, "mark": {"type": "text", "text": ["Liquid injection", "Concentration 5 times"], "font": "Lato", "fontSize": 18.5, "lineHeight": 24, "align": "center", "baseline": "middle", "color": "#000000"},
 "encoding": {"x": {"datum": 37.2, "type": "quantitative", "axis": null}, "y": {"datum": 28.33, "type": "quantitative", "axis": null}}},
{"data": {"values": [{}]}, "mark": {"type": "text", "text": "DI-SPME 40°C", "font": "Lato", "fontSize": 17.5, "align": "left", "baseline": "middle", "color": "#2323d2"},
 "encoding": {"x": {"datum": 6.45, "type": "quantitative", "axis": null}, "y": {"datum": 16.06, "type": "quantitative", "axis": null}}}
]
},
{
"width": 508, "height": 309,
"resolve": {"axis": {"x": "independent", "y": "independent"}},
"layer": [
{"data": {"name": "Bk"}, "mark": {"type": "line", "color": "#262626", "strokeWidth": 1, "clip": true},
 "encoding": {
  "x": {"field": "t", "type": "quantitative", "scale": {"domain": [5.09, 45.0], "nice": false, "zero": false},
   "axis": {"orient": "bottom", "values": [8,12,16,20,24,28,32,36,40,44], "labelExpr": "replace(format(datum.value, '.2f'), '.', '. ')", "tickSize": 4, "labelPadding": 1, "labelFontSize": 10.5, "title": "Ti me- - >", "titleX": -40, "titleY": 9, "titleAlign": "left", "titleBaseline": "middle", "titleColor": "#2525d0", "titleFontSize": 11, "titleFontWeight": "normal", "titleFont": "Liberation Sans"}},
  "y": {"field": "y", "type": "quantitative", "scale": {"domain": [0, 31.9], "nice": false},
   "axis": {"values": [0,4,8,12,16,20,24,28], "labelExpr": "datum.value == 0 ? '0' : datum.value < 10 ? format(datum.value * 1000000, 'd') : replace((datum.value / 10) + 'e+07', '.', '. ')", "tickSize": 3, "labelPadding": 1, "labelFont": "Liberation Sans Narrow", "labelFontSize": 10.5, "title": "Abundance", "titleAngle": 0, "titleX": -39, "titleY": 7, "titleAlign": "left", "titleBaseline": "middle", "titleColor": "#2525d0", "titleFontSize": 10, "titleFont": "Liberation Sans Narrow", "titleFontWeight": "normal", "domainDash": [1, 1]}}
 }},
{"data": {"name": "Bb"}, "mark": {"type": "line", "color": "#3030e0", "strokeWidth": 1, "clip": true},
 "encoding": {
  "x": {"field": "t", "type": "quantitative", "axis": {"orient": "bottom", "values": [5.5,6,6.5,7,7.5,8,8.5,9,9.5,10,10.5,11,11.5,12,12.5,13,13.5,14,14.5,15,15.5,16,16.5,17,17.5,18,18.5,19,19.5,20,20.5,21,21.5,22,22.5,23,23.5,24,24.5,25,25.5,26,26.5,27,27.5,28,28.5,29,29.5,30,30.5,31,31.5,32,32.5,33,33.5,34,34.5,35,35.5,36,36.5,37,37.5,38,38.5,39,39.5,40,40.5,41,41.5,42,42.5,43,43.5,44,44.5], "labels": false, "tickSize": 2, "domain": false, "title": null}},
  "y": {"field": "y", "type": "quantitative", "axis": null}
 }},
{"data": {"values": [{}]}, "mark": {"type": "text", "text": "B", "font": "Lato", "fontSize": 32, "align": "center", "baseline": "alphabetic", "color": "#000000"},
 "encoding": {"x": {"datum": 8.7, "type": "quantitative", "axis": null}, "y": {"datum": 29.2, "type": "quantitative", "axis": null}}},
{"data": {"values": [{}]}, "mark": {"type": "text", "text": ["Liquid injection", "Concentration 5 times"], "font": "Lato", "fontSize": 18.5, "lineHeight": 24, "align": "center", "baseline": "middle", "color": "#000000"},
 "encoding": {"x": {"datum": 36.54, "type": "quantitative", "axis": null}, "y": {"datum": 28.7, "type": "quantitative", "axis": null}}},
{"data": {"values": [{}]}, "mark": {"type": "text", "text": ["Liquid injection", "no concentration"], "font": "Lato", "fontSize": 18.5, "lineHeight": 24, "align": "left", "baseline": "middle", "color": "#2323d2"},
 "encoding": {"x": {"datum": 7.92, "type": "quantitative", "axis": null}, "y": {"datum": 8.26, "type": "quantitative", "axis": null}}}
]
}
],
"spacing": 50,
"bounds": "flush"
},
{
"hconcat": [
{"width": 275, "height": 10, "view": {"fill": "#ffffff", "stroke": null}, "data": {"values": [{}]}, "mark": {"type": "text", "text": ""}},
{
"width": 532, "height": 311,
"resolve": {"axis": {"x": "independent", "y": "independent"}},
"layer": [
{"data": {"name": "Ck"}, "mark": {"type": "line", "color": "#262626", "strokeWidth": 1, "clip": true},
 "encoding": {
  "x": {"field": "t", "type": "quantitative", "scale": {"domain": [5.3, 46.2], "nice": false, "zero": false},
   "axis": {"orient": "bottom", "values": [8,12,16,20,24,28,32,36,40,44], "labelExpr": "format(datum.value, '.2f')", "tickSize": 4, "labelPadding": 1, "labelFontSize": 10.5, "title": "Time-->", "titleX": -37, "titleY": 11, "titleAlign": "left", "titleBaseline": "middle", "titleColor": "#2525d0", "titleFontSize": 11, "titleFontWeight": "normal", "titleFont": "Liberation Sans"}},
  "y": {"field": "y", "type": "quantitative", "scale": {"domain": [0, 41.5], "nice": false},
   "axis": {"values": [0,5,10,15,20,25,30,35,40], "labelExpr": "datum.value == 0 ? '0' : datum.value < 10 ? format(datum.value * 1000000, 'd') : replace((datum.value / 10) + 'e+07', '.', '. ')", "tickSize": 3, "labelPadding": 1, "labelFont": "Liberation Sans Narrow", "labelFontSize": 10.5, "title": "Abundance", "titleAngle": 0, "titleX": -37, "titleY": 1, "titleAlign": "left", "titleBaseline": "middle", "titleColor": "#2525d0", "titleFontSize": 10, "titleFont": "Liberation Sans Narrow", "titleFontWeight": "normal", "domainDash": [1, 1]}}
 }},
{"data": {"name": "Cb"}, "mark": {"type": "line", "color": "#3030e0", "strokeWidth": 1, "clip": true},
 "encoding": {
  "x": {"field": "t", "type": "quantitative", "axis": {"orient": "bottom", "values": [5.5,6,6.5,7,7.5,8,8.5,9,9.5,10,10.5,11,11.5,12,12.5,13,13.5,14,14.5,15,15.5,16,16.5,17,17.5,18,18.5,19,19.5,20,20.5,21,21.5,22,22.5,23,23.5,24,24.5,25,25.5,26,26.5,27,27.5,28,28.5,29,29.5,30,30.5,31,31.5,32,32.5,33,33.5,34,34.5,35,35.5,36,36.5,37,37.5,38,38.5,39,39.5,40,40.5,41,41.5,42,42.5,43,43.5,44,44.5,45,45.5,46], "labels": false, "tickSize": 2, "domain": false, "title": null}},
  "y": {"field": "y", "type": "quantitative", "axis": null}
 }},
{"data": {"values": [{}]}, "mark": {"type": "text", "text": "C", "font": "Lato", "fontSize": 32, "align": "center", "baseline": "alphabetic", "color": "#000000"},
 "encoding": {"x": {"datum": 9.92, "type": "quantitative", "axis": null}, "y": {"datum": 37.2, "type": "quantitative", "axis": null}}},
{"data": {"values": [{}]}, "mark": {"type": "text", "text": ["Liquid injection", "Concentration 5 times"], "font": "Lato", "fontSize": 18.5, "lineHeight": 24, "align": "center", "baseline": "middle", "color": "#000000"},
 "encoding": {"x": {"datum": 44.3, "type": "quantitative", "axis": null}, "y": {"datum": 32.16, "type": "quantitative", "axis": null}}},
{"data": {"values": [{}]}, "mark": {"type": "text", "text": "DI-SPME 80°C", "font": "Lato", "fontSize": 17.5, "align": "left", "baseline": "middle", "color": "#2323d2"},
 "encoding": {"x": {"datum": 8.53, "type": "quantitative", "axis": null}, "y": {"datum": 21.48, "type": "quantitative", "axis": null}}}
]
}
],
"spacing": 0,
"bounds": "flush"
}
],
"spacing": 13,
"config": {
 "view": {"stroke": null},
 "axis": {"grid": false, "labelColor": "#111111", "domainColor": "#555555", "tickColor": "#555555", "labelFont": "Liberation Sans"}
}
}
